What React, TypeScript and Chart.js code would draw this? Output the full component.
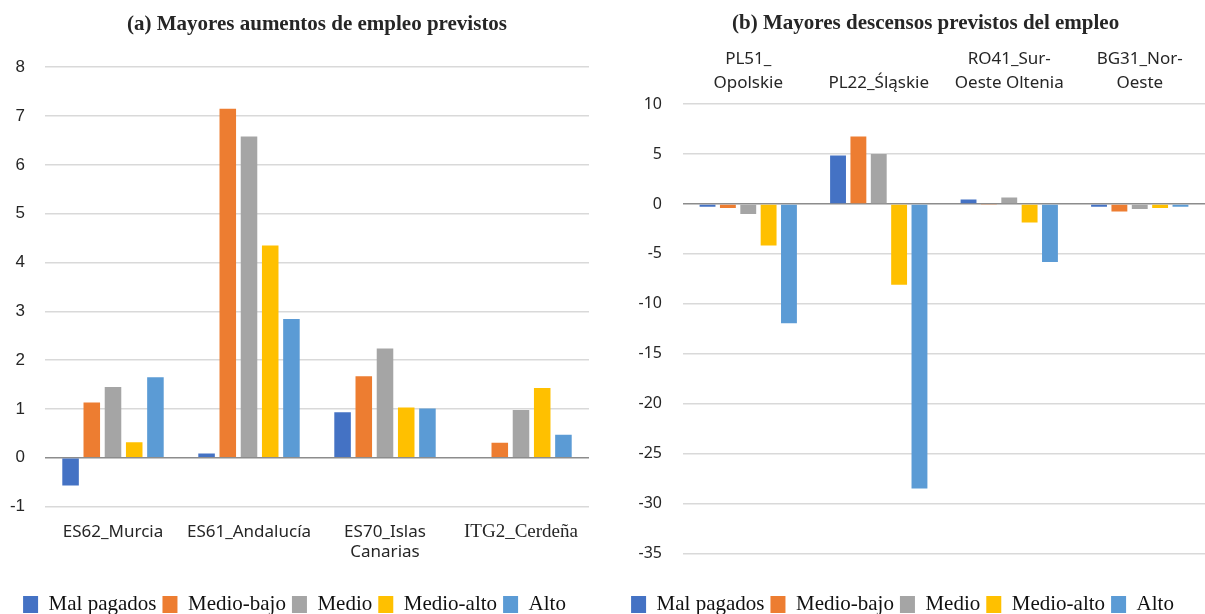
import React, { useEffect, useRef } from 'react';
import { Chart, registerables } from 'chart.js';

Chart.register(...registerables);

const seriesNames = ['Mal pagados', 'Medio-bajo', 'Medio', 'Medio-alto', 'Alto'];
const seriesColors = ['#4472C4', '#ED7D31', '#A5A5A5', '#FFC000', '#5B9BD5'];

const leftTitle = '(a) Mayores aumentos de empleo previstos';
const leftCategories = ['ES62_Murcia', 'ES61_Andalucía', ['ES70_Islas', 'Canarias'], 'ITG2_Cerdeña'];
const leftMalPagados = [-0.57, 0.09, 0.93, 0];
const leftMedioBajo = [1.13, 7.15, 1.67, 0.31];
const leftMedio = [1.45, 6.58, 2.24, 0.98];
const leftMedioAlto = [0.32, 4.35, 1.03, 1.43];
const leftAlto = [1.65, 2.84, 1.01, 0.47];
const leftYMin = -1;
const leftYMax = 8;
const leftYStep = 1;

const rightTitle = '(b) Mayores descensos previstos del empleo       ';
const rightCategories = [['PL51_', 'Opolskie'], 'PL22_Śląskie', ['RO41_Sur-', 'Oeste Oltenia'], ['BG31_Nor-', 'Oeste']];
const rightMalPagados = [-0.27, 4.85, 0.45, -0.27];
const rightMedioBajo = [-0.4, 6.75, -0.1, -0.75];
const rightMedio = [-1.0, 5.0, 0.65, -0.5];
const rightMedioAlto = [-4.15, -8.1, -1.85, -0.4];
const rightAlto = [-11.95, -28.5, -5.8, -0.27];
const rightYMin = -35;
const rightYMax = 10;
const rightYStep = 5;

const SERIF = "'Liberation Serif', 'Times New Roman', serif";
const SANS = "'Noto Sans', 'Open Sans', sans-serif";
const ARIAL = "'Liberation Sans', Arial, sans-serif";

function makeDatasets(values: number[][]) {
  return values.map((data, i) => ({
    label: seriesNames[i],
    data,
    backgroundColor: seriesColors[i],
    borderWidth: 0,
    categoryPercentage: 0.78,
    barPercentage: 0.78,
  }));
}

function gridColor(ctx: any) {
  return ctx.tick && ctx.tick.value === 0 ? '#8c8c8c' : '#d9d9d9';
}

function legendOptions(titleGap: number) {
  return {
    position: 'bottom' as const,
    title: { display: true, text: '', font: { size: 8 }, padding: { top: titleGap, bottom: 0 } },
    labels: {
      boxWidth: 15,
      boxHeight: 17,
      padding: 6,
      color: '#111',
      font: { family: SERIF, size: 21 },
    },
  };
}

function leftConfig(): any {
  return {
    type: 'bar',
    data: {
      labels: leftCategories,
      datasets: makeDatasets([leftMalPagados, leftMedioBajo, leftMedio, leftMedioAlto, leftAlto]),
    },
    options: {
      responsive: false,
      animation: false,
      layout: { padding: { left: 0, right: 11, top: 0, bottom: -11 } },
      plugins: {
        title: {
          display: true,
          fullSize: false,
          text: leftTitle,
          color: '#262626',
          font: { family: SERIF, size: 21, weight: 'bold' },
          padding: { top: 12, bottom: 30 },
        },
        legend: legendOptions(1),
        tooltip: { enabled: false },
      },
      scales: {
        x: {
          position: 'bottom',
          grid: { display: false, drawTicks: false },
          border: { display: false },
          ticks: {
            color: '#262626',
            padding: 15,
            maxRotation: 0,
            autoSkip: false,
            font: (ctx: any) =>
              ctx.index === 3
                ? { family: SERIF, size: 19, lineHeight: 1.1 }
                : { family: SANS, size: 17, lineHeight: 1.2 },
          },
        },
        y: {
          min: leftYMin,
          max: leftYMax,
          grid: { color: gridColor, drawTicks: false, lineWidth: 1.5 },
          border: { display: false },
          ticks: {
            stepSize: leftYStep,
            padding: 20,
            color: '#262626',
            font: { family: ARIAL, size: 17 },
          },
          afterFit: (scale: any) => {
            scale.width = 45;
          },
        },
      },
    },
  };
}

function rightConfig(): any {
  return {
    type: 'bar',
    data: {
      labels: rightCategories,
      datasets: makeDatasets([rightMalPagados, rightMedioBajo, rightMedio, rightMedioAlto, rightAlto]),
    },
    options: {
      responsive: false,
      animation: false,
      layout: { padding: { left: 0, right: 0, top: 0, bottom: -11 } },
      plugins: {
        title: {
          display: true,
          fullSize: false,
          text: rightTitle,
          color: '#262626',
          font: { family: SERIF, size: 21, weight: 'bold' },
          padding: { top: 11, bottom: 2 },
        },
        legend: legendOptions(25),
        tooltip: { enabled: false },
      },
      scales: {
        x: {
          position: 'top',
          grid: { display: false, drawTicks: false },
          border: { display: false },
          ticks: {
            color: '#262626',
            padding: 9,
            maxRotation: 0,
            autoSkip: false,
            font: { family: SANS, size: 17, lineHeight: 1.41 },
          },
        },
        y: {
          min: rightYMin,
          max: rightYMax,
          grid: { color: gridColor, drawTicks: false, lineWidth: 1.5 },
          border: { display: false },
          ticks: {
            stepSize: rightYStep,
            padding: 21,
            color: '#262626',
            font: { family: SANS, size: 16 },
          },
          afterFit: (scale: any) => {
            scale.width = 83;
          },
        },
      },
    },
  };
}

function Panel({ build, width, height, left }: { build: () => any; width: number; height: number; left: number }) {
  const ref = useRef<HTMLCanvasElement>(null);
  useEffect(() => {
    if (!ref.current) return;
    const chart = new Chart(ref.current, build());
    return () => chart.destroy();
  }, []);
  return (
    <canvas
      ref={ref}
      width={width}
      height={height}
      style={{ position: 'absolute', left, top: 0, width, height, display: 'block' }}
    />
  );
}

export default function App() {
  return (
    <div
      style={{
        position: 'fixed',
        left: 0,
        top: 0,
        width: 1205,
        height: 614,
        overflow: 'hidden',
        background: '#ffffff',
      }}
    >
      <Panel build={leftConfig} width={600} height={614} left={0} />
      <Panel build={rightConfig} width={605} height={614} left={600} />
    </div>
  );
}
